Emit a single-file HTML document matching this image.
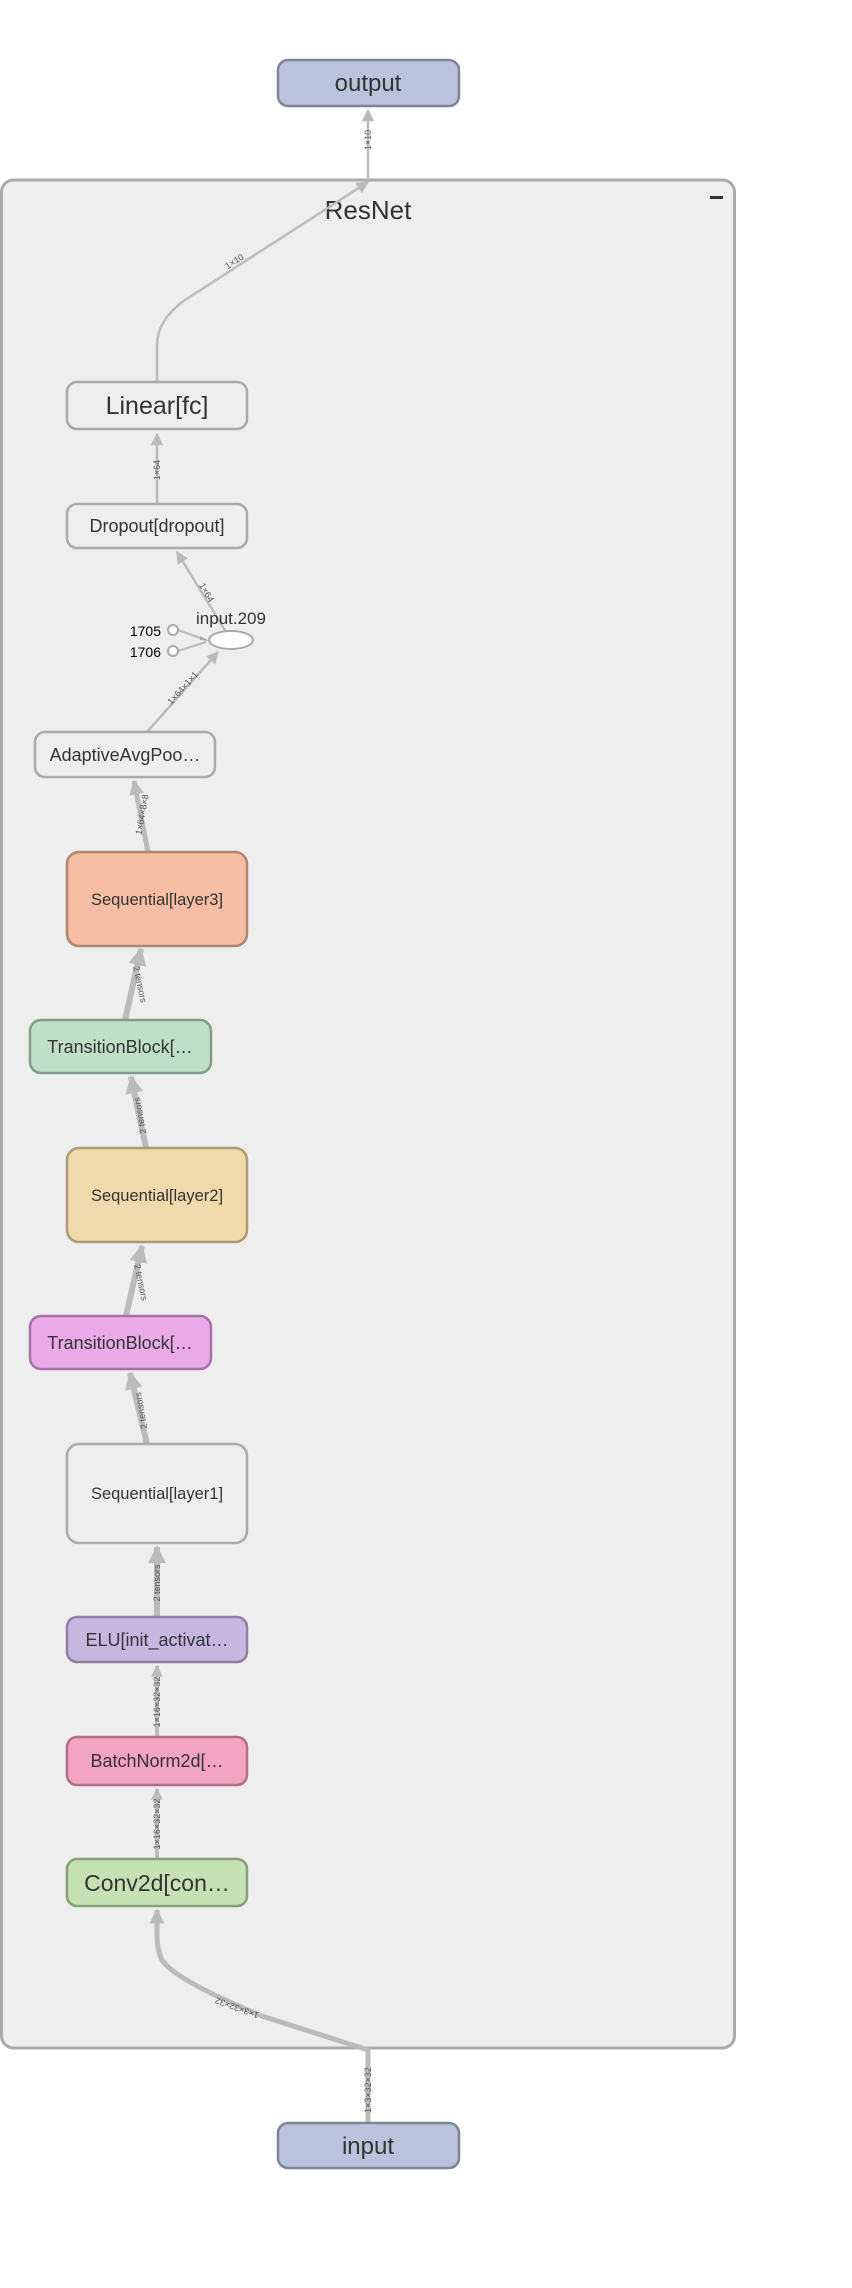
<!DOCTYPE html>
<html><head><meta charset="utf-8"><style>
html,body{margin:0;padding:0;background:#fff;}
svg{display:block;}
text{font-family:"Liberation Sans",sans-serif;fill:#333;}
.el{font-size:9px;fill:#555;}
</style></head><body>
<svg width="852" height="2288" viewBox="0 0 852 2288" xmlns="http://www.w3.org/2000/svg">
<defs>
<marker id="ah" viewBox="0 0 10 10" refX="9" refY="5" markerWidth="5" markerHeight="5" orient="auto"><path d="M0,0 L10,5 L0,10 z" fill="#bbb"/></marker>
<marker id="ah2" viewBox="0 0 10 10" refX="9" refY="5" markerWidth="3" markerHeight="3" orient="auto"><path d="M0,0 L10,5 L0,10 z" fill="#bbb"/></marker>
</defs>
<rect x="1.5" y="180" width="733" height="1868" rx="12" fill="#eeeeee" stroke="#aaa" stroke-width="3"/>
<text x="368" y="219" font-size="26" text-anchor="middle">ResNet</text>
<rect x="710" y="196" width="13" height="3" fill="#333"/>

<g fill="none" stroke="#bbb">
<path d="M368 180 L368 110" stroke-width="2.5" marker-end="url(#ah)"/>
<path d="M157 382 L157 345 Q157 320 185 300 L368 182" stroke-width="2.5" marker-end="url(#ah)"/>
<path d="M157 504 L157 434" stroke-width="2.5" marker-end="url(#ah)"/>
<path d="M226 632 L177 552" stroke-width="2.5" marker-end="url(#ah)"/>
<path d="M147 732 L218 652" stroke-width="2.5" marker-end="url(#ah)"/>
<path d="M178 630 L206 640" stroke-width="2"/>
<path d="M178 651 L206 642" stroke-width="2"/>
<path d="M148 852 L134 781" stroke-width="5" marker-end="url(#ah2)"/>
<path d="M125 1020 L141 949" stroke-width="6" marker-end="url(#ah2)"/>
<path d="M146 1148 L131 1077" stroke-width="6" marker-end="url(#ah2)"/>
<path d="M126 1316 L142 1246" stroke-width="6" marker-end="url(#ah2)"/>
<path d="M147 1444 L130 1373" stroke-width="6" marker-end="url(#ah2)"/>
<path d="M157 1617 L157 1547" stroke-width="6" marker-end="url(#ah2)"/>
<path d="M157 1737 L157 1666" stroke-width="4" marker-end="url(#ah2)"/>
<path d="M157 1859 L157 1789" stroke-width="4" marker-end="url(#ah2)"/>
<path d="M368 2123 L368 2050 L262 2016 Q175 1980 162 1960 Q157 1950 157 1935 L157 1910" stroke-width="5" marker-end="url(#ah2)"/>
</g>
<path d="M200 640 L210 641 L200 636 z" fill="#aaa"/>

<text class="el" transform="translate(371,140) rotate(-90)" text-anchor="middle">1×10</text>
<text class="el" transform="translate(236,264) rotate(-33)" text-anchor="middle">1×10</text>
<text class="el" transform="translate(160,470) rotate(-90)" text-anchor="middle">1×64</text>
<text class="el" transform="translate(204,594) rotate(60)" text-anchor="middle">1×64</text>
<text class="el" transform="translate(185,690) rotate(-48)" text-anchor="middle">1×64×1×1</text>
<text class="el" transform="translate(145,815) rotate(-80)" text-anchor="middle">1×64×8×8</text>
<text class="el" transform="translate(137,985) rotate(78)" text-anchor="middle">2 tensors</text>
<text class="el" transform="translate(143,1115) rotate(-100)" text-anchor="middle">2 tensors</text>
<text class="el" transform="translate(138,1283) rotate(78)" text-anchor="middle">2 tensors</text>
<text class="el" transform="translate(144,1410) rotate(-100)" text-anchor="middle">2 tensors</text>
<text class="el" transform="translate(160,1583) rotate(-90)" text-anchor="middle">2 tensors</text>
<text class="el" transform="translate(160,1702) rotate(-90)" text-anchor="middle">1×16×32×32</text>
<text class="el" transform="translate(160,1824) rotate(-90)" text-anchor="middle">1×16×32×32</text>
<text class="el" transform="translate(238,2005) rotate(200)" text-anchor="middle">1×3×32×32</text>
<text class="el" transform="translate(371,2090) rotate(-90)" text-anchor="middle">1×3×32×32</text>

<rect x="278" y="60" width="181" height="46" rx="10" fill="#b9c4dc" stroke="#7f8597" stroke-width="2.5"/>
<text x="368" y="91" font-size="24" text-anchor="middle">output</text>
<rect x="278" y="2123" width="181" height="45" rx="10" fill="#b9c4dc" stroke="#7f8597" stroke-width="2.5"/>
<text x="368" y="2154" font-size="24" text-anchor="middle">input</text>

<rect x="67" y="382" width="180" height="47" rx="10" fill="#eeeeee" stroke="#aaa" stroke-width="2.5"/>
<text x="157" y="414" font-size="25" text-anchor="middle">Linear[fc]</text>
<rect x="67" y="504" width="180" height="44" rx="10" fill="#eeeeee" stroke="#aaa" stroke-width="2.5"/>
<text x="157" y="532" font-size="18" text-anchor="middle">Dropout[dropout]</text>

<ellipse cx="231" cy="640" rx="22" ry="9" fill="#fff" stroke="#aaa" stroke-width="2"/>
<text x="231" y="624" font-size="17" text-anchor="middle">input.209</text>
<circle cx="173" cy="630" r="5" fill="#fff" stroke="#aaa" stroke-width="2"/>
<circle cx="173" cy="651" r="5" fill="#fff" stroke="#aaa" stroke-width="2"/>
<text x="161" y="636" font-size="14" text-anchor="end" style="fill:#000">1705</text>
<text x="161" y="657" font-size="14" text-anchor="end" style="fill:#000">1706</text>

<rect x="35" y="732" width="180" height="45" rx="10" fill="#eeeeee" stroke="#aaa" stroke-width="2.5"/>
<text x="125" y="761" font-size="18" text-anchor="middle">AdaptiveAvgPoo…</text>

<rect x="67" y="852" width="180" height="94" rx="12" fill="#f5bda3" stroke="#b08670" stroke-width="2.5"/>
<text x="157" y="905" font-size="16.5" text-anchor="middle">Sequential[layer3]</text>
<rect x="30" y="1020" width="181" height="53" rx="11" fill="#bfdfc7" stroke="#869a89" stroke-width="2.5"/>
<text x="120" y="1053" font-size="18" text-anchor="middle">TransitionBlock[…</text>
<rect x="67" y="1148" width="180" height="94" rx="12" fill="#f0d9aa" stroke="#ad9a76" stroke-width="2.5"/>
<text x="157" y="1201" font-size="16.5" text-anchor="middle">Sequential[layer2]</text>
<rect x="30" y="1316" width="181" height="53" rx="11" fill="#eaaae8" stroke="#a773a5" stroke-width="2.5"/>
<text x="120" y="1349" font-size="18" text-anchor="middle">TransitionBlock[…</text>
<rect x="67" y="1444" width="180" height="99" rx="12" fill="#eeeeee" stroke="#aaa" stroke-width="2.5"/>
<text x="157" y="1499" font-size="16.5" text-anchor="middle">Sequential[layer1]</text>

<rect x="67" y="1617" width="180" height="45" rx="10" fill="#c5b7e0" stroke="#8c81a3" stroke-width="2.5"/>
<text x="157" y="1646" font-size="18" text-anchor="middle">ELU[init_activat…</text>
<rect x="67" y="1737" width="180" height="48" rx="10" fill="#f3a4c1" stroke="#b06f88" stroke-width="2.5"/>
<text x="157" y="1767" font-size="18" text-anchor="middle">BatchNorm2d[…</text>
<rect x="67" y="1859" width="180" height="47" rx="10" fill="#c6e2b4" stroke="#87a07a" stroke-width="2.5"/>
<text x="157" y="1891" font-size="23" text-anchor="middle">Conv2d[con…</text>
</svg>
</body></html>
